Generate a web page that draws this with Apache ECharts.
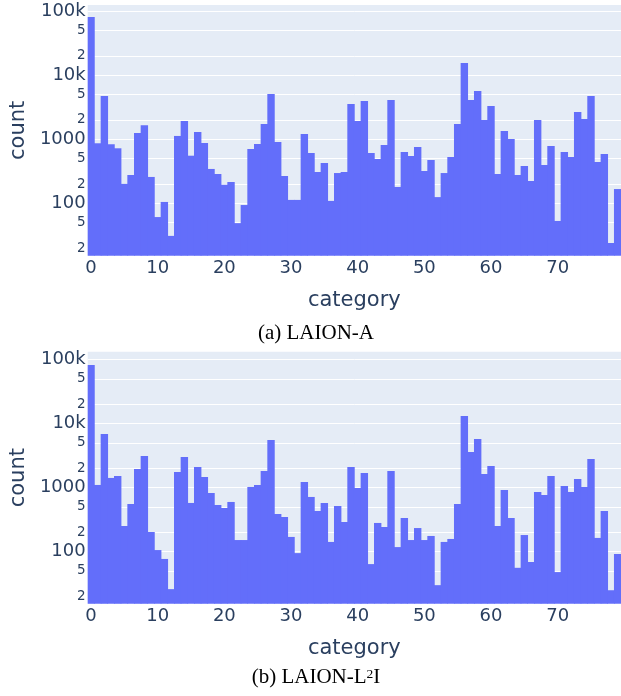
<!DOCTYPE html>
<html>
<head>
<meta charset="utf-8">
<script src="https://cdn.jsdelivr.net/npm/echarts@6/dist/echarts.min.js"></script>
<style>
    html, body {margin:0;padding:0;background:#ffffff;}
    #chart {width:621px;height:696px;}
</style>
</head>
<body>
<div id="chart"></div>
<script>
    // category ids 0..79
    var categories = [];
    for (var i = 0; i < 80; i++) categories.push(String(i));

    // counts per category
    var laionA = [
        81500, 866, 4750, 836, 723, 201, 277, 1253, 1655, 258,
        61, 105, 31, 1127, 1932, 554, 1300, 875, 344, 287,
        195, 215, 49, 94, 705, 845, 1734, 5100, 908, 267,
        113, 113, 1210, 611, 308, 426, 109, 297, 308, 3560,
        1932, 3965, 611, 492, 815, 4110, 180, 634, 548, 759,
        320, 475, 125, 297, 529, 1734, 15560, 4110, 5690, 2003,
        3310, 287, 1348, 1011, 277, 383, 223, 2003, 396, 786,
        53, 634, 529, 2670, 2075, 4750, 442, 589, 24, 167
    ];
    var laionL2I = [
        82600, 1102, 6900, 1419, 1523, 252, 556, 1960, 3127, 203,
        106, 77, 26, 1760, 3020, 577, 2105, 1470, 826, 537,
        482, 598, 152, 152, 1026, 1102, 1824, 5560, 388, 348,
        170, 95, 1228, 716, 432, 577, 142, 518, 291, 2105,
        989, 1697, 64, 281, 243, 1824, 118, 336, 152, 234,
        152, 176, 30, 142, 158, 556, 13190, 3610, 5770, 1637,
        2183, 252, 920, 336, 56, 182, 69, 857, 769, 1523,
        48, 1063, 857, 1367, 1026, 2807, 164, 432, 25, 92
    ];

    // log ticks like plotly: 2, 5, 10, 20, 50 ...
    var yTicks = [20, 50, 100, 200, 500, 1000, 2000, 5000, 10000, 20000, 50000, 100000];

    var textColor = '#2a3f5f';
    var font = 'DejaVu Sans';
    var barColor = '#636efa';

    function yLabel(v) {
        var e = Math.floor(Math.log10(v) + 1e-9);
        var d = Math.round(v / Math.pow(10, e));
        if (d === 1) {
            if (e >= 4) return Math.round(v / 1000) + 'k';
            return String(Math.round(v));
        }
        return '{m|' + d + '}';
    }

    function makeX(idx) {
        return {
            type: 'category',
            gridIndex: idx,
            data: categories,
            name: 'category',
            nameLocation: 'middle',
            nameGap: 34,
            nameTextStyle: {color: textColor, fontSize: 21, fontFamily: font},
            axisLine: {show: false},
            axisTick: {show: false},
            axisLabel: {interval: 9, color: textColor, fontSize: 18, fontFamily: font, margin: 4},
            splitLine: {show: false}
        };
    }

    function makeY(idx, lo, hi) {
        return {
            type: 'log',
            gridIndex: idx,
            min: lo,
            max: hi,
            name: 'count',
            nameLocation: 'middle',
            nameGap: 58,
            nameTextStyle: {color: textColor, fontSize: 21, fontFamily: font},
            axisLine: {show: false},
            axisTick: {show: false, customValues: yTicks},
            axisLabel: {
                customValues: yTicks,
                color: textColor, fontSize: 18, fontFamily: font, margin: 2,
                formatter: yLabel,
                rich: {m: {fontSize: 13.5, color: textColor, fontFamily: font}}
            },
            splitLine: {show: true, lineStyle: {color: '#ffffff', width: 1}}
        };
    }

    var chart = echarts.init(document.getElementById('chart'));

    var option = {
        animation: false,
        title: [
            {
                text: '(a) LAION-A',
                left: 311, top: 318, textAlign: 'center',
                textStyle: {fontFamily: 'Liberation Serif', fontWeight: 'normal', fontSize: 21, color: '#000'}
            },
            {
                text: '(b) LAION-L{sup|2}I',
                left: 311, top: 662, textAlign: 'center',
                textStyle: {
                    fontFamily: 'Liberation Serif', fontWeight: 'normal', fontSize: 21, color: '#000',
                    rich: {sup: {fontFamily: 'Liberation Serif', fontSize: 13.5, color: '#000', verticalAlign: 'top', lineHeight: 12}}
                }
            }
        ],
        grid: [
            {left: 82.7, top: 5, width: 541.1, height: 250.7, show: true, backgroundColor: '#e5ecf6', borderWidth: 0},
            {left: 82.7, top: 351.7, width: 541.1, height: 252, show: true, backgroundColor: '#e5ecf6', borderWidth: 0}
        ],
        xAxis: [makeX(0), makeX(1)],
        yAxis: [makeY(0, 15.2, 125000), makeY(1, 15.4, 133000)],
        series: [
            {
                name: 'LAION-A', type: 'bar', xAxisIndex: 0, yAxisIndex: 0,
                data: laionA, barWidth: 7.4,
                itemStyle: {color: barColor}
            },
            {
                name: 'LAION-L2I', type: 'bar', xAxisIndex: 1, yAxisIndex: 1,
                data: laionL2I, barWidth: 7.4,
                itemStyle: {color: barColor}
            }
        ]
    };

    chart.setOption(option);

    window.onresize = function () {
        chart.resize();
    };
</script>
</body>
</html>
